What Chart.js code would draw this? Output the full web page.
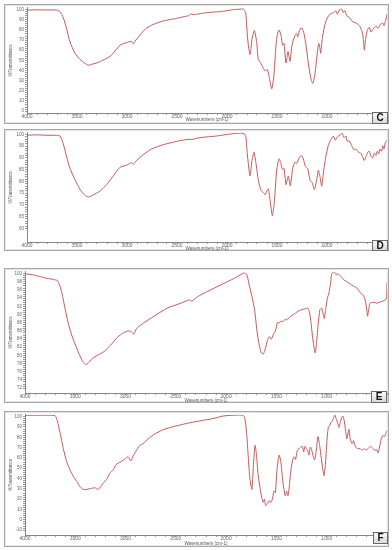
<!DOCTYPE html>
<html><head><meta charset="utf-8">
<script src="https://cdn.jsdelivr.net/npm/chart.js@4.4.1/dist/chart.umd.min.js"></script>
<style>
body{margin:0;background:#fff;width:392px;height:550px;position:relative;overflow:hidden;font-family:"Liberation Sans",Arial,sans-serif}
.frame{position:absolute;border:1px solid #a8a8a8;box-sizing:border-box;background:#fff;box-shadow:inset 0 0 0 1px #e4e4e4}
canvas.pc{position:absolute}
.tag{position:absolute;box-sizing:border-box;border:1px solid #6a6a6a;background:linear-gradient(#fbfbfb,#d9d9d9);font:bold 10px "Liberation Sans",Arial,sans-serif;color:#111;text-align:center;}
</style></head><body>
<script>
// ---- data (wavenumber cm-1, % transmittance) ----
const C_wn=[4000,3900,3800,3703,3670,3637,3603,3570,3520,3470,3420,3387,3340,3300,3253,3203,3170,3137,3120,3087,3070,3020,2970,2953,2937,2920,2903,2870,2837,2800,2753,2700,2637,2570,2503,2440,2387,2363,2337,2270,2203,2140,2070,2000,1937,1880,1837,1813,1797,1783,1770,1760,1750,1727,1715,1703,1687,1663,1637,1617,1597,1577,1553,1530,1510,1495,1480,1460,1443,1430,1410,1390,1370,1350,1320,1303,1293,1270,1250,1230,1210,1187,1163,1143,1123,1103,1083,1070,1063,1047,1027,1003,970,937,910,897,877,853,837,820,803,777,753,730,703,677,653,637,627,613,597,577,560,537,510,487,470,443,430,410,400];
const C_T=[99.5,99.8,99.6,99.6,98,92,81,68,57,51,47,45.2,46.5,47.5,49.7,52,54,57,59.3,63,65,67,68.5,68.7,66.2,69,71,75,79,82,84.7,86.8,88.8,90.2,91.4,92.8,94,95.8,95,96,97,97.5,98,99,100,100.4,100.5,97,75,62,55.7,62,71,79.5,75,68,51,47.4,42.6,39.4,41,33,21.8,36,65,76,80,74.7,65,66.6,47.4,58.6,49,65,74.7,76.3,73,81,81.7,76.3,65,47.4,33,27.2,34.6,52,66.7,61.8,57,71.5,82.7,90.7,95.5,97,98.7,95.5,99.7,100.5,97,99,94,92.3,89,87.5,86.5,84.3,79.5,71.5,60,71.5,79.5,82.7,78,81,83.6,81.7,85,86.8,84.3,90.7,95.5];

const D_wn=[4000,3900,3800,3703,3670,3637,3603,3570,3520,3470,3420,3387,3337,3270,3203,3137,3070,3003,2953,2937,2903,2837,2753,2637,2503,2387,2353,2270,2103,1937,1830,1810,1797,1770,1750,1730,1710,1687,1663,1637,1617,1603,1587,1570,1547,1527,1503,1480,1460,1447,1430,1410,1387,1367,1343,1320,1303,1277,1257,1237,1217,1193,1170,1147,1127,1103,1087,1070,1053,1037,1013,987,960,937,917,897,870,850,830,810,797,777,753,730,710,687,663,643,627,610,593,577,560,543,527,510,497,483,470,453,443,430,417,400];
const D_T=[99.6,99.8,99.6,99.6,99.3,95.9,90.3,85.5,80.7,76.6,74,73.4,74.2,75.9,78.6,82.3,86,86.9,88,87.2,89,91.4,93.8,95.6,97,97.9,97.8,98.6,99.3,100.3,100.4,98.6,91.7,82.3,88.9,92.4,87.6,80.6,76.5,75.1,74.4,75.8,76.8,72.3,65.4,71,84.8,89.6,87.6,85.1,85.5,78.6,82.3,78.1,85.5,88.2,87.6,90,91,89.6,86.4,85.5,80.6,79.3,76.5,80.6,84.8,82,77.9,83.4,90.3,95.2,97.9,99.3,97.5,98.9,99.7,100.5,98.6,99.3,97,97.2,95.2,93.4,93.8,92.4,92,90.3,88.9,90.6,92.4,92.8,90.6,90,92,91,92.8,91.7,93.8,92.8,95.2,93.8,96.5,97.5];

const E_wn=[4000,3917,3850,3783,3717,3677,3657,3633,3600,3567,3533,3483,3433,3400,3377,3333,3283,3217,3150,3083,3017,2967,2933,2917,2900,2883,2817,2717,2583,2450,2367,2343,2283,2183,2050,1917,1833,1817,1793,1767,1743,1717,1693,1670,1650,1630,1610,1590,1570,1550,1530,1510,1490,1473,1457,1437,1417,1397,1377,1357,1333,1310,1283,1250,1217,1190,1173,1157,1140,1123,1113,1100,1083,1067,1050,1037,1023,1010,993,977,963,950,933,910,883,857,830,800,767,733,700,667,633,617,603,593,583,567,533,500,477,450,423,410,403,400];
const E_T=[100,99.7,99.3,98.9,98.6,98.3,97.3,95.3,91.2,87.6,84.8,81.6,78.8,77.8,78,79.2,80,80.9,82.5,84.4,85.6,86,85.6,85.2,86.2,86.8,88,89.6,91.6,92.8,93.6,93.3,94.4,95.7,97.3,98.9,100.1,100.2,99.7,96.9,94.4,91.2,86,82.4,80.6,80.4,81.6,83.6,84.6,84,85.2,86,88,88,88.4,88.2,88.8,88.7,89.2,89.6,90,90.4,90.8,91.2,91.4,91.6,90.8,88.4,84.4,81.6,80.6,83.2,88,91.2,91.6,90.4,89,91.2,94,95.3,97.3,99.9,100.5,99.9,99.9,99.3,98.5,98.1,97.5,97,96.5,95.4,94.6,93.6,91.6,89.6,91.2,92.8,93,92.8,93,93.2,93.5,93.7,94.5,97.8];

const F_wn=[4000,3900,3800,3702,3679,3652,3619,3586,3553,3520,3487,3449,3421,3387,3338,3305,3278,3255,3222,3189,3156,3123,3090,3057,3007,2974,2947,2924,2891,2858,2825,2776,2709,2627,2528,2394,2262,2130,2031,1932,1832,1815,1798,1782,1766,1752,1743,1729,1713,1699,1683,1666,1646,1633,1619,1606,1590,1573,1557,1540,1524,1510,1494,1474,1458,1441,1425,1411,1398,1385,1371,1355,1338,1322,1309,1292,1276,1259,1242,1229,1216,1202,1189,1176,1162,1150,1137,1120,1103,1087,1070,1053,1037,1027,1014,997,984,971,958,944,931,918,904,892,878,865,852,839,825,812,799,789,779,766,746,733,713,690,666,646,626,607,581,561,541,521,501,488,474,457,441,424,408,400];
const F_T=[101.3,101.4,101.4,101,96,84.8,69,56.4,48.5,42.2,37.4,31.7,29.5,29.5,30.5,31.1,29.5,31.1,35.8,39,45.3,48.5,53.9,55.8,58.9,61.1,57,62,67.4,72.2,73.8,78.5,83.2,87.4,90.2,93.4,95.9,98.1,100.6,101.4,101.4,99,86.4,64.3,42.2,32.7,29.5,51.6,72.2,64.3,45.3,32.7,21.6,16.9,20,13.7,15.3,18.5,16.9,20,27.9,26.4,48.5,62.7,57.9,42.2,29.5,23.2,27.9,23.2,32.7,48.5,58,61.1,58.5,67.4,69,70.6,71.2,65.9,71.2,69,67.4,62.7,70.6,68.1,62.7,58,67.4,80.7,72.2,59.5,48.5,42.8,51.6,76.9,89.6,91.2,94.3,95.9,99,101.5,97.5,94.3,89.6,94.3,99,100.6,95.9,86.4,78.5,83.2,88,78.5,73.8,76.9,70.6,69,69,67.4,69,67.4,70,71.2,69,67.4,68,64.9,70.6,78.5,81.7,80.7,84.8,86.5];

// ---- tick labels ----
const xMajorTicks=[4000,3500,3000,2500,2000,1500,1000];
const C_yTicks=[100,90,80,70,60,50,40,30,20,10,0];
const D_yTicks=[100,95,90,85,80,75,70,65,60];
const E_yTicks=[100,98,96,94,92,90,88,86,84,82,80,78,76,74,72];
const F_yTicks=[100,90,80,70,60,50,40,30,20,10,0,-10];
const panelLetters=['C','D','E','F'];
const xTitle='Wavenumbers (cm-1)';
const yTitle='%Transmittance';

Chart.defaults.font.family='"Liberation Sans", Arial, sans-serif';

const panels=[
 {wn:C_wn,t:C_T,yt:C_yTicks,minor:2,fx:4,fy:4,fw:385,fh:120,px:27,px2:387,py:5,py2:113,ymin:-1.9,ymax:101.9,xtPad:1.5,tag:[372,112,16,12]},
 {wn:D_wn,t:D_T,yt:D_yTicks,minor:1,fx:4,fy:129,fw:385,fh:122,px:27,px2:387,py:130,py2:242,ymin:54.2,ymax:100.7,xtPad:0,tag:[372,240,16,11]},
 {wn:E_wn,t:E_T,yt:E_yTicks,minor:0.5,fx:4,fy:268,fw:385,fh:135,px:25,px2:387,py:270,py2:393,ymin:70.8,ymax:100.5,xtPad:0,tag:[371,391,16,12]},
 {wn:F_wn,t:F_T,yt:F_yTicks,minor:2,fx:4,fy:411,fw:385,fh:136,px:25,px2:387,py:412,py2:535,ymin:-14.7,ymax:101.9,xtPad:1,tag:[373,532,15,12]}
];

function minorTicks(lo,hi,step){const a=[];for(let v=Math.ceil(lo/step)*step;v<=hi+1e-9;v+=step)a.push(Math.round(v*100)/100);return a;}

panels.forEach((p,i)=>{
  const fr=document.createElement('div');fr.className='frame';
  fr.style.cssText=`left:${p.fx}px;top:${p.fy}px;width:${p.fw}px;height:${p.fh}px`;
  document.body.appendChild(fr);
  const cv=document.createElement('canvas');cv.className='pc';
  cv.width=p.fw;cv.height=p.fh;
  cv.style.cssText=`left:${p.fx}px;top:${p.fy}px;width:${p.fw}px;height:${p.fh}px`;
  document.body.appendChild(cv);
  const yMajor=new Set(p.yt);
  new Chart(cv,{
    type:'line',
    data:{datasets:[{data:p.wn.map((w,k)=>({x:w,y:p.t[k]})),borderColor:'#c25a5a',borderWidth:1,pointRadius:0,tension:0.2,fill:false}]},
    options:{
      responsive:false,animation:false,devicePixelRatio:1,
      plugins:{legend:{display:false},tooltip:{enabled:false}},
      layout:{padding:{left:0,top:p.py-p.fy,right:(p.fx+p.fw)-p.px2,bottom:0}},
      scales:{
        x:{type:'linear',reverse:true,min:400,max:4000,
          afterFit:s=>{s.height=(p.fy+p.fh)-p.py2;},
          afterBuildTicks:s=>{s.ticks=minorTicks(400,4000,100).reverse().map(v=>({value:v}));},
          ticks:{autoSkip:false,maxRotation:0,minRotation:0,padding:-1,font:{size:5},color:'#666',callback:v=>xMajorTicks.includes(v)?String(v):''},
          grid:{drawOnChartArea:false,tickLength:2,color:'#999'},
          border:{color:'#888'},
          title:{display:true,text:xTitle,font:{size:4.5},color:'#555',padding:{top:0,bottom:p.xtPad}}
        },
        y:{min:p.ymin,max:p.ymax,
          afterFit:s=>{s.width=p.px-p.fx;},
          afterBuildTicks:s=>{s.ticks=minorTicks(Math.min(...p.yt),Math.max(...p.yt),p.minor).map(v=>({value:v}));},
          ticks:{autoSkip:false,padding:1,font:{size:4.5},color:'#666',callback:v=>yMajor.has(v)?String(v):''},
          grid:{drawOnChartArea:false,tickLength:2,color:'#999'},
          border:{color:'#888'},
          title:{display:true,text:yTitle,font:{size:4.5},color:'#555',padding:{top:4,bottom:0}}
        }
      }
    }
  });
  const tg=document.createElement('div');tg.className='tag';
  const [l,t,w,h]=p.tag;
  tg.style.cssText=`left:${l}px;top:${t}px;width:${w}px;height:${h}px;line-height:${h-2}px`;
  tg.textContent=panelLetters[i];
  document.body.appendChild(tg);
});
</script>
</body></html>
